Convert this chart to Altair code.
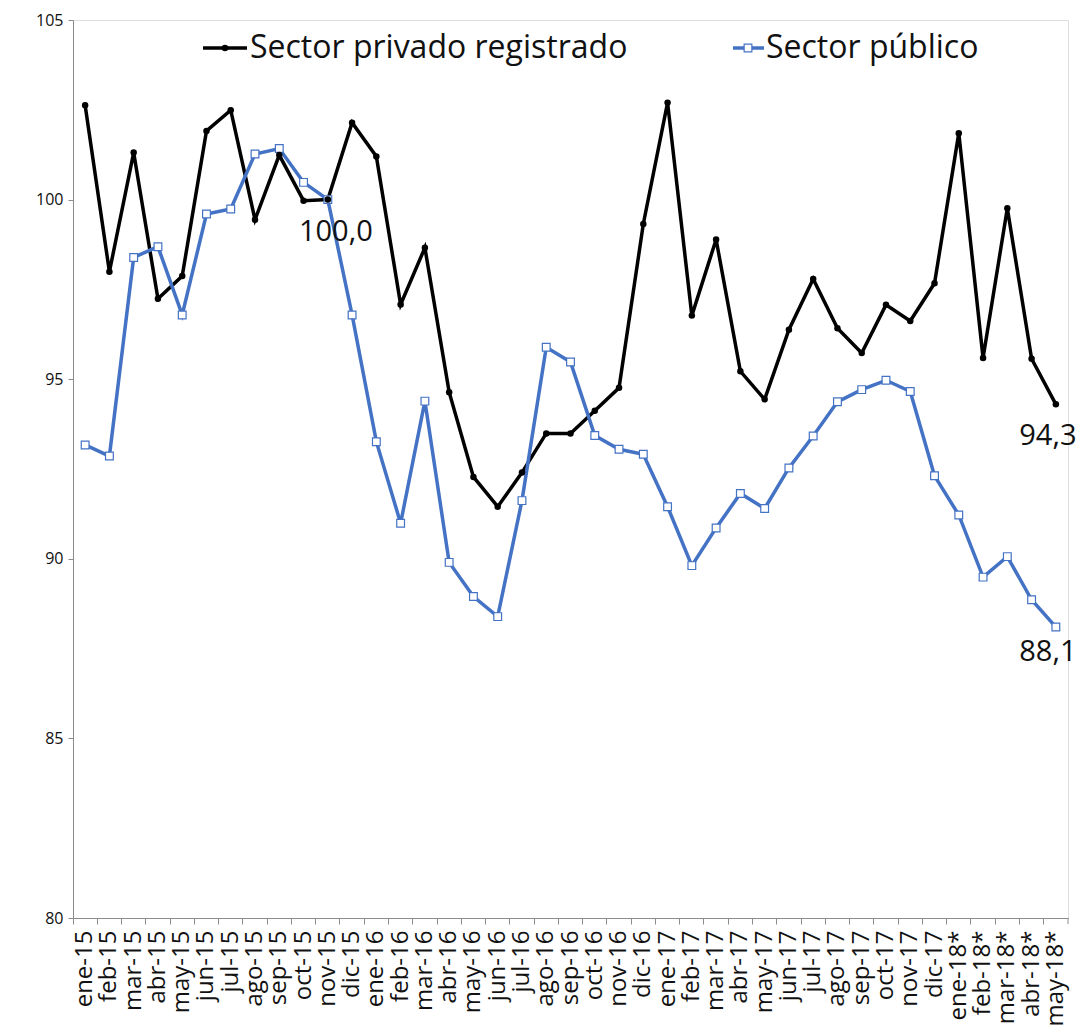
import altair as alt
import pandas as pd

# Monthly index series (nov-15 = 100)
meses = [
    "ene-15", "feb-15", "mar-15", "abr-15", "may-15", "jun-15", "jul-15", "ago-15",
    "sep-15", "oct-15", "nov-15", "dic-15",
    "ene-16", "feb-16", "mar-16", "abr-16", "may-16", "jun-16", "jul-16", "ago-16",
    "sep-16", "oct-16", "nov-16", "dic-16",
    "ene-17", "feb-17", "mar-17", "abr-17", "may-17", "jun-17", "jul-17", "ago-17",
    "sep-17", "oct-17", "nov-17", "dic-17",
    "ene-18*", "feb-18*", "mar-18*", "abr-18*", "may-18*",
]

privado = [
    102.63, 97.99, 101.31, 97.24, 97.87, 101.91, 102.49, 99.44, 101.24, 99.97, 100.0, 102.14,
    101.20, 97.08, 98.66, 94.64, 92.28, 91.45, 92.40, 93.49, 93.49, 94.12, 94.76, 99.32,
    102.70, 96.77, 98.89, 95.22, 94.44, 96.38, 97.79, 96.42, 95.73, 97.07, 96.62, 97.67,
    101.85, 95.59, 99.76, 95.57, 94.3,
]

publico = [
    93.17, 92.86, 98.39, 98.69, 96.79, 99.60, 99.74, 101.27, 101.42, 100.48, 100.0, 96.79,
    93.26, 90.99, 94.39, 89.90, 88.95, 88.39, 91.62, 95.89, 95.48, 93.43, 93.05, 92.91,
    91.45, 89.81, 90.86, 91.82, 91.40, 92.53, 93.42, 94.37, 94.71, 94.97, 94.66, 92.31,
    91.22, 89.49, 90.06, 88.86, 88.1,
]

series = ["Sector privado registrado", "Sector público"]
colores = ["#000000", "#4472C4"]
y_ticks = [80, 85, 90, 95, 100, 105]

FONT = "Open Sans"

rows = []
for serie, valores in zip(series, [privado, publico]):
    for mes, v in zip(meses, valores):
        rows.append({"mes": mes, "serie": serie, "valor": v,
                     "texto": f"{v:.1f}".replace(".", ",")})
df = pd.DataFrame(rows)

x_enc = alt.X(
    "mes:N",
    sort=meses,
    bandPosition=0.5,
    scale=alt.Scale(type="band", paddingInner=0, paddingOuter=0),
    axis=alt.Axis(
        title=None, labelAngle=270, bandPosition=0, tickSize=6,
        labelFontSize=24, labelFont=FONT, labelColor="#111111", labelPadding=6,
        domainColor="#8c8c8c", tickColor="#8c8c8c", grid=False,
    ),
)
y_enc = alt.Y(
    "valor:Q",
    scale=alt.Scale(domain=[80, 105], nice=False, zero=False),
    axis=alt.Axis(
        title=None, values=y_ticks, tickSize=5, labelFontSize=16, labelFont=FONT,
        labelColor="#111111", labelPadding=5, domainColor="#8c8c8c",
        tickColor="#8c8c8c", grid=False,
    ),
)
color_enc = alt.Color("serie:N", scale=alt.Scale(domain=series, range=colores), legend=None)

base = alt.Chart(df)

lineas = base.mark_line(strokeWidth=3.5).encode(x=x_enc, y=y_enc, color=color_enc)

puntos_priv = base.transform_filter(alt.datum.serie == series[0]).mark_point(
    shape="circle", filled=True, size=42, color="#000000", opacity=1
).encode(x=x_enc, y=y_enc)

puntos_pub = base.transform_filter(alt.datum.serie == series[1]).mark_point(
    shape="square", filled=True, size=60, fill="#ffffff", stroke="#4472C4",
    strokeWidth=1.2, opacity=1
).encode(x=x_enc, y=y_enc)


def etiqueta(serie, mes, dx, dy):
    return base.transform_filter(
        (alt.datum.serie == serie) & (alt.datum.mes == mes)
    ).mark_text(
        font=FONT, fontSize=29, color="#111111", align="center",
        baseline="middle", dx=dx, dy=dy
    ).encode(x=x_enc, y=y_enc, text="texto:N")


etiquetas = [
    etiqueta(series[1], "nov-15", 8, 32),
    etiqueta(series[0], "may-18*", -8, 32),
    etiqueta(series[1], "may-18*", -8, 25),
]

# Legend drawn at the top of the plot area: line sample, marker and name
leg_df = pd.DataFrame({"serie": series})
leg_priv = leg_df.iloc[[0]]
leg_pub = leg_df.iloc[[1]]

leyenda = [
    alt.Chart(leg_priv).mark_rule(color="#000000", strokeWidth=3.5).encode(
        x=alt.value(130), x2=alt.value(174), y=alt.value(28)),
    alt.Chart(leg_priv).mark_point(shape="circle", filled=True, size=42,
                                   color="#000000", opacity=1).encode(
        x=alt.value(152), y=alt.value(28)),
    alt.Chart(leg_priv).mark_text(font=FONT, fontSize=32, color="#111111",
                                  align="left", baseline="middle").encode(
        x=alt.value(177), y=alt.value(28), text="serie:N"),
    alt.Chart(leg_pub).mark_rule(color="#4472C4", strokeWidth=3.5).encode(
        x=alt.value(660), x2=alt.value(691), y=alt.value(28)),
    alt.Chart(leg_pub).mark_point(shape="square", filled=True, size=60, fill="#ffffff",
                                  stroke="#4472C4", strokeWidth=1.2, opacity=1).encode(
        x=alt.value(675), y=alt.value(28)),
    alt.Chart(leg_pub).mark_text(font=FONT, fontSize=32, color="#111111",
                                 align="left", baseline="middle").encode(
        x=alt.value(693), y=alt.value(28), text="serie:N"),
]

# closing tick at the right end of the category axis
tick_final = alt.Chart(leg_priv).mark_rule(color="#8c8c8c", strokeWidth=1).encode(
    x=alt.value(995), y=alt.value(898), y2=alt.value(904))

chart = alt.layer(
    lineas, puntos_pub, puntos_priv, *etiquetas, *leyenda, tick_final
).properties(
    width=995,
    height=898,
    autosize=alt.AutoSizeParams(type="none"),
    padding={"left": 73, "top": 20, "right": 19, "bottom": 112},
).configure_view(stroke=None).configure(background="#ffffff")

chart.save("out.html", embed_options={"renderer": "svg", "actions": False})
